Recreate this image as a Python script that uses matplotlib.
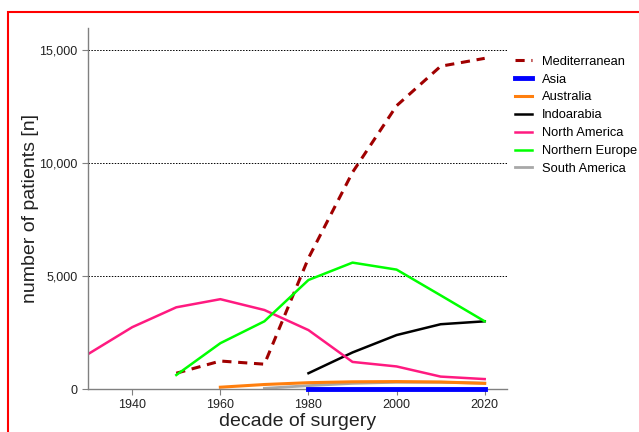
import matplotlib
matplotlib.use("Agg")
import matplotlib.pyplot as plt
from matplotlib.patches import Rectangle
from matplotlib.lines import Line2D
from matplotlib.ticker import FuncFormatter

plt.rcParams['font.family'] = ['Liberation Sans', 'DejaVu Sans']

# decades
dec_med = [1950, 1960, 1970, 1980, 1990, 2000, 2010, 2020]
med = [700, 1240, 1100, 5800, 9600, 12550, 14300, 14650]

dec_asia = [1980, 1990, 2000, 2010, 2020]
asia = [20, 20, 20, 20, 20]

dec_aus = [1960, 1970, 1980, 1990, 2000, 2010, 2020]
aus = [80, 200, 280, 320, 330, 310, 250]

dec_ind = [1980, 1990, 2000, 2010, 2020]
ind = [700, 1620, 2390, 2870, 3000]

dec_nam = [1930, 1940, 1950, 1960, 1970, 1980, 1990, 2000, 2010, 2020]
nam = [1550, 2740, 3620, 3980, 3500, 2610, 1200, 1000, 550, 440]

dec_neu = [1950, 1960, 1970, 1980, 1990, 2000, 2010, 2020]
neu = [620, 2030, 3000, 4830, 5600, 5290, 4150, 3000]

dec_sam = [1970, 1980, 1990, 2000, 2010, 2020]
sam = [30, 150, 250, 300, 300, 260]

fig = plt.figure(figsize=(6.39, 4.32), dpi=100)
ax = fig.add_axes([0.138, 0.0995, 0.655, 0.836])

# red frame (only top/left visible)
fig.patches.append(Rectangle((8 / 639, -0.1), 1.2, 1 - 12 / 432 + 0.1, transform=fig.transFigure,
                             fill=False, edgecolor='#ff0000', linewidth=1.5))

ax.plot(dec_med, med, color='#a00000', lw=2.2, ls=(0, (3, 2.2)), label='Mediterranean')
ax.plot(dec_sam, sam, color='#a8a8a8', lw=2, label='_sam')
ax.plot(dec_asia, asia, color='#0000ff', lw=3.5, clip_on=False, label='Asia', zorder=3)
ax.plot(dec_aus, aus, color='#ff7f0e', lw=2.2, label='Australia')
ax.plot(dec_ind, ind, color='black', lw=1.8, label='Indoarabia')
ax.plot(dec_nam, nam, color='#ff1a80', lw=1.8, label='North America')
ax.plot(dec_neu, neu, color='#00ff00', lw=1.8, label='Northern Europe')

handles, labels = ax.get_legend_handles_labels()
handles.append(Line2D([], [], color='#a8a8a8', lw=2))
labels.append('South America')
ax.legend(handles, labels, loc='upper left', bbox_to_anchor=(0.993, 0.955), frameon=False,
          fontsize=9.3, handlelength=1.3, handletextpad=0.75, labelspacing=0.45)

ax.set_xlim(1930, 2025)
ax.set_ylim(0, 16000)
ax.set_xticks([1940, 1960, 1980, 2000, 2020])
ax.set_yticks([0, 5000, 10000, 15000])
ax.yaxis.set_major_formatter(FuncFormatter(lambda v, p: f'{int(v):,}'))
ax.yaxis.grid(True, color='black', ls=(0, (1.5, 1.5)), lw=0.7)
ax.set_axisbelow(True)

for s in ['top', 'right']:
    ax.spines[s].set_visible(False)
for s in ['left', 'bottom']:
    ax.spines[s].set_color('#808080')
    ax.spines[s].set_linewidth(1)
ax.tick_params(colors='#808080', labelcolor='#222222', labelsize=9, length=4)

ax.set_xlabel('decade of surgery', fontsize=14, labelpad=1, color='#222222')
ax.set_ylabel('number of patients [n]', fontsize=14, labelpad=0, color='#222222')

fig.savefig('out.png', dpi=100)
